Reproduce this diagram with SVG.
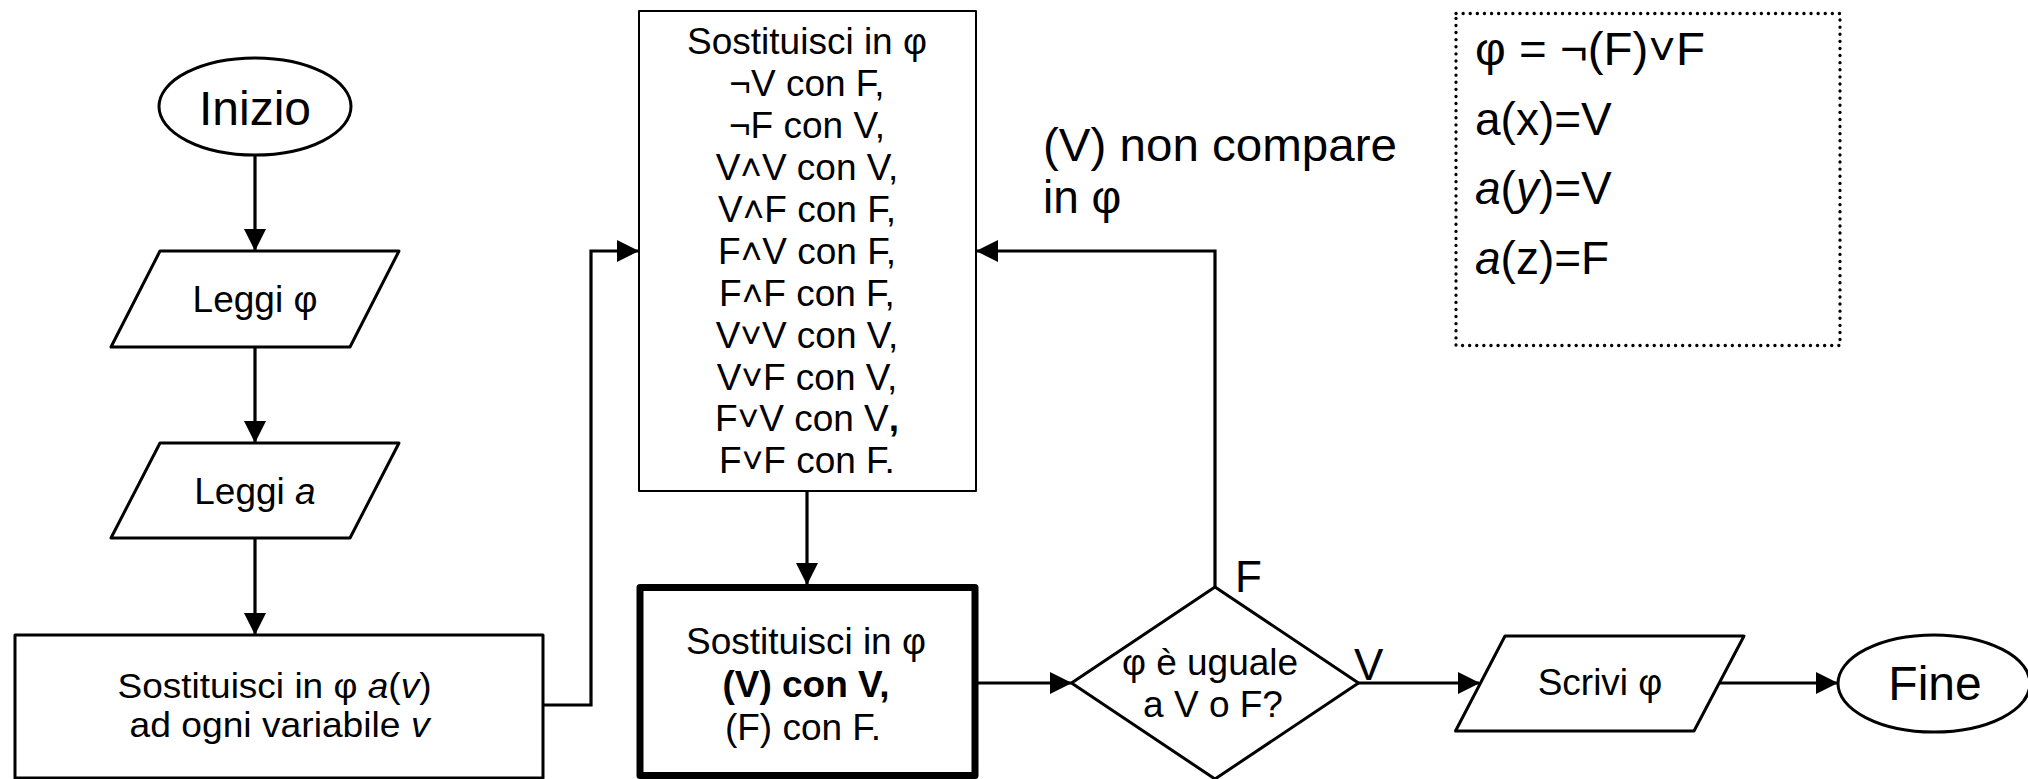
<svg xmlns="http://www.w3.org/2000/svg" width="2028" height="779" viewBox="0 0 2028 779">
<style>
text{font-family:"Liberation Sans",Arial,"DejaVu Sans",sans-serif;fill:#000}
.c{text-anchor:middle}
.s{fill:#fff;stroke:#000;stroke-width:3;stroke-linejoin:round}
.thin{stroke-width:2}
.bold{stroke-width:7}
.con{fill:none;stroke:#000;stroke-width:3.2}
.dot{fill:none;stroke:#000;stroke-width:3.3;stroke-linecap:round;stroke-dasharray:0.1 7}
.i{font-style:italic}
.b{font-weight:bold}
</style>
<defs>
<marker id="ah" markerUnits="userSpaceOnUse" markerWidth="22" markerHeight="22" refX="21" refY="11" orient="auto">
<path d="M0,0 L22,11 L0,22 z" fill="#000"/>
</marker>
</defs>
<rect width="2028" height="779" fill="#fff"/>

<g id="connectors">
<path class="con" d="M255,155 V250" marker-end="url(#ah)"/>
<path class="con" d="M255,347 V442" marker-end="url(#ah)"/>
<path class="con" d="M255,538 V634" marker-end="url(#ah)"/>
<path class="con" d="M543,705 H591 V251 H638" marker-end="url(#ah)"/>
<path class="con" d="M807,491 V584" marker-end="url(#ah)"/>
<path class="con" d="M978,683 H1071" marker-end="url(#ah)"/>
<path class="con" d="M1215,587 V251 H977" marker-end="url(#ah)"/>
<path class="con" d="M1358,683 H1479" marker-end="url(#ah)"/>
<path class="con" d="M1719,683 H1837" marker-end="url(#ah)"/>
</g>

<g id="inizio">
<ellipse class="s" cx="255" cy="106.5" rx="96" ry="48.5"/>
<text class="c" x="255" y="125" font-size="48">Inizio</text>
</g>

<g id="leggi-phi">
<polygon class="s" points="160,251 399,251 350,347 111,347"/>
<text class="c" x="255" y="312" font-size="37">Leggi φ</text>
</g>

<g id="leggi-a">
<polygon class="s" points="160,443 399,443 350,538 111,538"/>
<text class="c" x="255" y="504" font-size="37">Leggi <tspan class="i">a</tspan></text>
</g>

<g id="sostituisci-av">
<rect class="s" x="15" y="635" width="528" height="143" stroke-width="2.5"/>
<text class="c" x="274.5" y="698" font-size="35" textLength="314" lengthAdjust="spacingAndGlyphs">Sostituisci in φ <tspan class="i">a</tspan>(<tspan class="i">v</tspan>)</text>
<text class="c" x="279.5" y="737" font-size="35" textLength="300" lengthAdjust="spacingAndGlyphs">ad ogni variabile <tspan class="i">v</tspan></text>
</g>

<g id="sostituisci-op">
<rect class="s thin" x="639" y="11" width="337" height="480"/>
<g font-size="37">
<text class="c" x="807" y="54.3">Sostituisci in φ</text>
<text class="c" x="807" y="96.2">¬V con F,</text>
<text class="c" x="807" y="138.1">¬F con V,</text>
<text class="c" x="807" y="180">V˄V con V,</text>
<text class="c" x="807" y="221.9">V˄F con F,</text>
<text class="c" x="807" y="263.8">F˄V con F,</text>
<text class="c" x="807" y="305.7">F˄F con F,</text>
<text class="c" x="807" y="347.6">V˅V con V,</text>
<text class="c" x="807" y="389.5">V˅F con V,</text>
<text class="c" x="807" y="431.4">F˅V con V<tspan class="b">,</tspan></text>
<text class="c" x="807" y="473.3">F˅F con F.</text>
</g>
</g>

<g id="sostituisci-par">
<rect class="s bold" x="640" y="587.5" width="335" height="188"/>
<g font-size="37">
<text class="c" x="806" y="654">Sostituisci in φ</text>
<text class="c b" x="806" y="697">(V) con V,</text>
<text class="c" x="803" y="740">(F) con F.</text>
</g>
</g>

<g id="decisione">
<polygon class="s" points="1215,587 1358.5,683 1215,779 1071.5,683"/>
<text class="c" x="1210" y="675" font-size="37">φ è uguale</text>
<text class="c" x="1213" y="716.5" font-size="37">a V o F?</text>
</g>

<g id="label-F">
<text x="1235" y="591.5" font-size="44">F</text>
</g>
<g id="label-V">
<text x="1354" y="680" font-size="44">V</text>
</g>

<g id="label-loop">
<text x="1043" y="161" font-size="46" textLength="354" lengthAdjust="spacingAndGlyphs">(V) non compare</text>
<text x="1043" y="213" font-size="46">in φ</text>
</g>

<g id="scrivi">
<polygon class="s" points="1505,636 1744,636 1694,731 1455.5,731"/>
<text class="c" x="1600" y="695" font-size="37">Scrivi φ</text>
</g>

<g id="fine">
<ellipse class="s" cx="1934" cy="683.5" rx="96" ry="48.5"/>
<text class="c" x="1935" y="700" font-size="48">Fine</text>
</g>

<g id="legenda">
<rect class="dot" x="1456" y="13.5" width="384" height="332"/>
<g font-size="46">
<text x="1475" y="65" textLength="230" lengthAdjust="spacingAndGlyphs">φ = ¬(F)˅F</text>
<text x="1475" y="134.5">a(x)=V</text>
<text x="1475" y="204"><tspan class="i">a</tspan>(<tspan class="i">y</tspan>)=V</text>
<text x="1475" y="273.5"><tspan class="i">a</tspan>(z)=F</text>
</g>
</g>
</svg>
